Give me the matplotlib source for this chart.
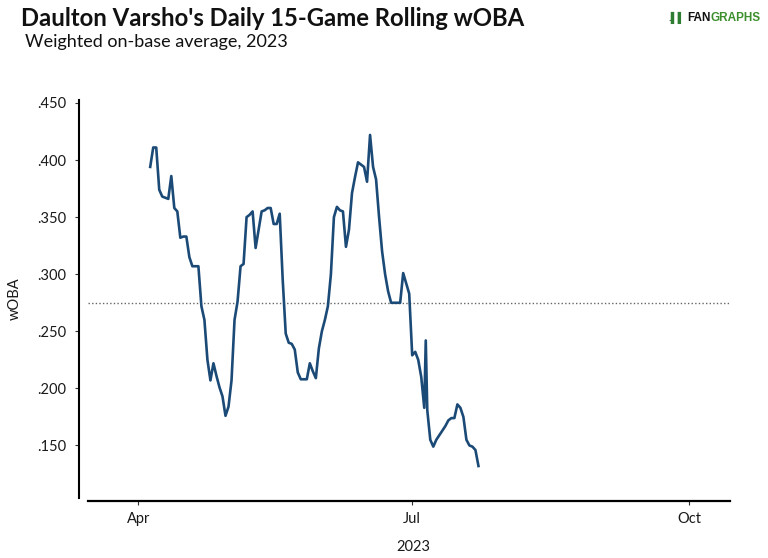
import matplotlib
matplotlib.use('Agg')
import matplotlib.pyplot as plt
import pandas as pd
from matplotlib.transforms import offset_copy

# daily 15-game rolling wOBA
dates = (list(pd.date_range('2023-04-05', '2023-07-05').strftime('%Y-%m-%d'))
         + ['2023-07-05 12:00']
         + list(pd.date_range('2023-07-06', '2023-07-23').strftime('%Y-%m-%d')))
woba = [.394, .411, .411, .374, .368, .367, .366, .386, .358, .355,
        .332, .333, .333, .315, .307, .307, .307, .272, .260, .225,
        .207, .222, .211, .201, .193, .176, .184, .207, .260, .276,
        .307, .309, .350, .352, .355, .323, .339, .355, .356, .358,
        .358, .344, .344, .353, .295, .248, .240, .239, .234, .214,
        .208, .208, .208, .222, .215, .209, .235, .250, .260, .272,
        .300, .350, .359, .356, .355, .324, .339, .371, .385, .398,
        .396, .394, .381, .422, .394, .383, .350, .320, .300, .285,
        .275, .275, .275, .275, .301, .292, .283, .229, .232, .225,
        .210, .183,
        .242,
        .181, .155, .149, .155, .159, .163, .167, .172, .174, .174,
        .186, .183, .175, .155, .150, .149, .146, .132]
league_avg = .275

y_ticks = [.150, .200, .250, .300, .350, .400, .450]
x_ticks = ['2023-04-01', '2023-07-01', '2023-10-01']
x_tick_labels = ['Apr', 'Jul', 'Oct']

plt.rcParams['font.family'] = ['Lato', 'DejaVu Sans']

fig = plt.figure(figsize=(7.68, 5.58), dpi=100)
ax = fig.add_axes([0.1152, 0.1075, 0.8349, 0.7133])

x = pd.to_datetime(dates, format='ISO8601')
ax.plot(x, woba, color='#1c4a77', lw=1.9, solid_joinstyle='round', zorder=3)
ax.axhline(league_avg, color='#666666', lw=1.0, ls=(0, (1, 1.6)), zorder=2)

ax.set_xlim(pd.Timestamp('2023-03-15 12:00'), pd.Timestamp('2023-10-14 10:00'))
ax.set_ylim(0.104, 0.4526)

ax.set_yticks(y_ticks)
ax.set_yticklabels([('%.3f' % v)[1:] for v in y_ticks])
ax.set_xticks(pd.to_datetime(x_ticks))
ax.set_xticklabels(x_tick_labels)

for s in ['top', 'right']:
    ax.spines[s].set_visible(False)
ax.spines['left'].set_position(('outward', 6.8))
ax.spines['bottom'].set_position(('outward', 2.2))
ax.spines['left'].set_linewidth(1.5)
ax.spines['bottom'].set_linewidth(1.6)
ax.tick_params(axis='both', length=3, width=0.8, color='#333333',
               labelsize=10.5, labelcolor='#1a1a1a')
ax.tick_params(axis='y', pad=6)
ax.tick_params(axis='x', pad=5)

ax.set_ylabel('wOBA', fontsize=10.5, color='#1a1a1a')
ax.yaxis.set_label_coords(-0.1037, 0.5)
ax.set_xlabel('2023', fontsize=10.5, color='#1a1a1a')
ax.xaxis.set_label_coords(0.506, -0.106)

fig.text(21 / 768, 1 - 26 / 558, "Daulton Varsho's Daily 15-Game Rolling wOBA",
         fontsize=17.2, fontweight='bold', va='baseline', ha='left', color='#111111')
fig.text(25 / 768, 1 - 47 / 558, 'Weighted on-base average, 2023',
         fontsize=13, va='baseline', ha='left', color='#111111')

# FanGraphs wordmark
logo_font = ['Liberation Sans', 'DejaVu Sans']
fig.text(685 / 768, 1 - 21 / 558, '.\u258c\u258c', fontsize=7, fontweight='bold',
         color='#2f7d32', va='baseline', ha='right', family=logo_font)
fan = fig.text(687 / 768, 1 - 21 / 558, 'FAN', fontsize=8.5, fontweight='bold',
               color='#111111', va='baseline', ha='left', family=logo_font)
fig.canvas.draw()
fan_w = fan.get_window_extent().width
fig.text(687 / 768, 1 - 21 / 558, 'GRAPHS', fontsize=8.5, fontweight='bold',
         color='#3c8f2c', va='baseline', ha='left', family=logo_font,
         transform=offset_copy(fig.transFigure, fig=fig, x=fan_w + 0.5, y=0, units='dots'))

fig.savefig('out.png', dpi=100)
